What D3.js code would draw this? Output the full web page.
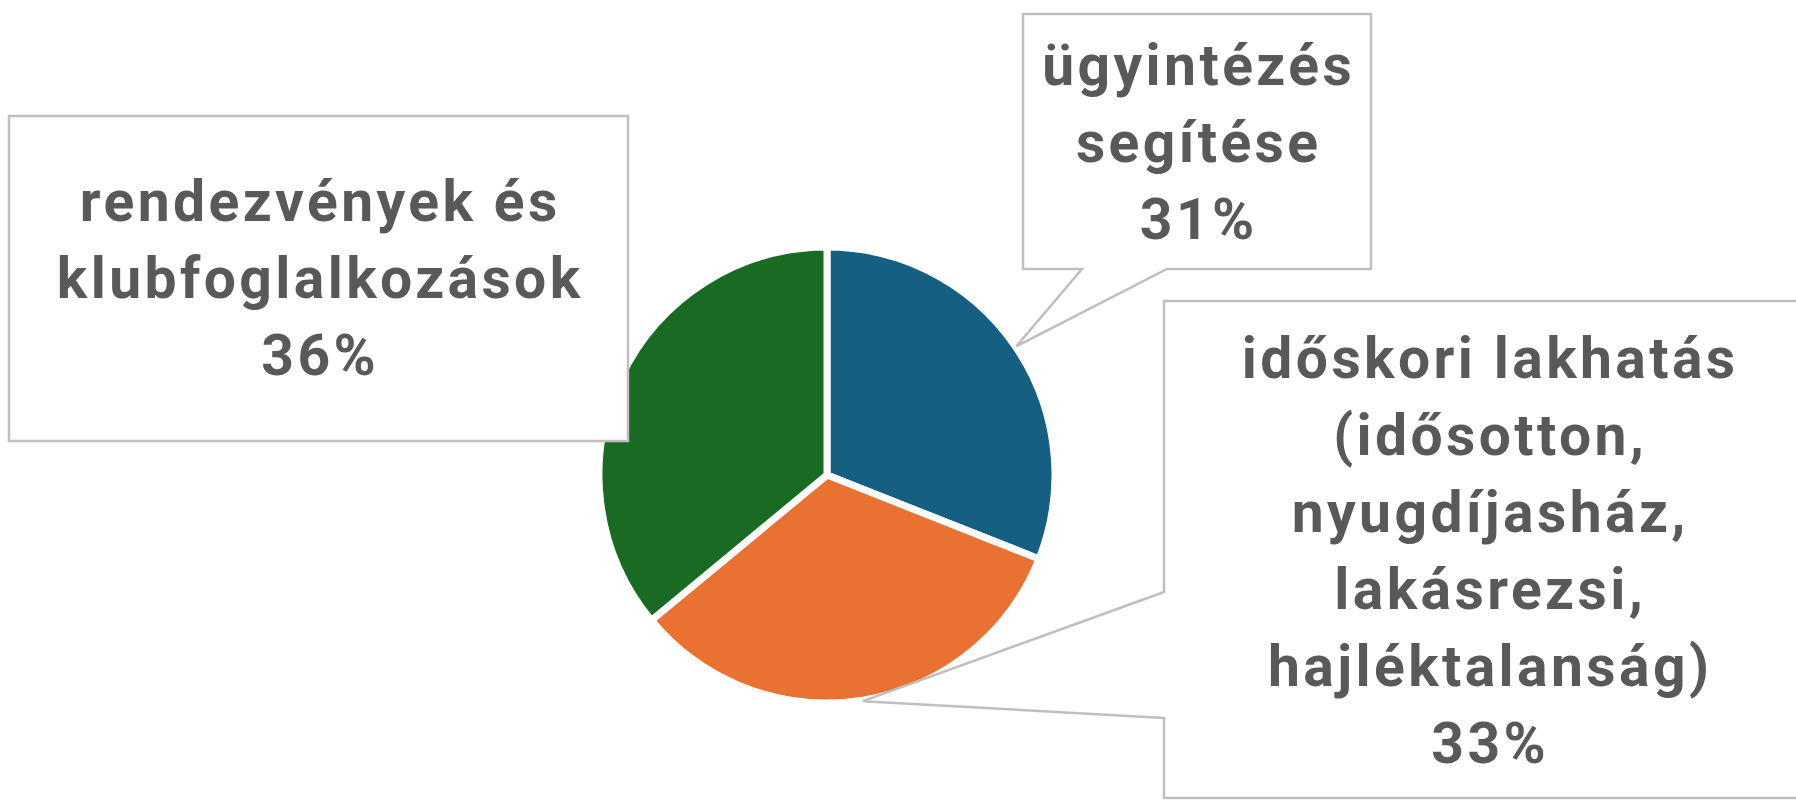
<!DOCTYPE html>
<html>
<head>
<meta charset="utf-8">
<script src="https://cdn.jsdelivr.net/npm/d3@7"></script>
<style>
  html, body { margin: 0; padding: 0; background: #fff; }
  svg { display: block; }
</style>
</head>
<body>
<svg id="chart" width="1796" height="802"></svg>
<script>
const categories = ["ügyintézés segítése", "időskori lakhatás (idősotton, nyugdíjasház, lakásrezsi, hajléktalanság)", "rendezvények és klubfoglalkozások"];
const values = [31, 33, 36];
const colors = ["#156082", "#E97132", "#196B24"];
// label text, split into lines as in the picture
const labelLines = [
    ["ügyintézés", "segítése"],
    ["időskori lakhatás", "(idősotton,", "nyugdíjasház,", "lakásrezsi,", "hajléktalanság)"],
    ["rendezvények és", "klubfoglalkozások"]
];

const svg = d3.select("#chart");
const cx = 827, cy = 475, r = 228;

const pie = d3.pie().sort(null).value(d => d);
const arcs = pie(values);
const arc = d3.arc().innerRadius(0).outerRadius(r);

const g = svg.append("g").attr("transform", `translate(${cx},${cy})`);
g.selectAll("path")
    .data(arcs)
    .enter()
    .append("path")
    .attr("d", arc)
    .attr("fill", (d, i) => colors[i])
    .attr("stroke", "#fff")
    .attr("stroke-width", 7)
    .attr("stroke-linejoin", "round");

// callout boxes: rect + where the pointer leaves the box
const boxes = [
    {x: 1023, y: 14, w: 348, h: 255, side: "bottom", p0: 59, p1: 144, y0: 85},
    {x: 1164, y: 301, w: 649, h: 497, side: "left", p0: 291, p1: 417, y0: 378},
    {x: 9, y: 116, w: 619, h: 325, side: "none", y0: 221}
];
const lineGap = 77;
const spacing = 3.4;

// pointer tip on the rim, at the middle of the slice
function tipOf(d) {
    const a = (d.startAngle + d.endAngle) / 2;
    const rr = r + 1;
    return [cx + rr * Math.sin(a), cy - rr * Math.cos(a)];
}

boxes.forEach((b, i) => {
    const x0 = b.x, y0 = b.y, x1 = b.x + b.w, y1 = b.y + b.h;
    let pts;
    if (b.side === "bottom") {
        const t = tipOf(arcs[i]);
        pts = [[x0, y0], [x1, y0], [x1, y1], [x0 + b.p1, y1], t, [x0 + b.p0, y1], [x0, y1]];
    } else if (b.side === "left") {
        const t = tipOf(arcs[i]);
        pts = [[x0, y0], [x1, y0], [x1, y1], [x0, y1], [x0, y0 + b.p1], t, [x0, y0 + b.p0]];
    } else {
        pts = [[x0, y0], [x1, y0], [x1, y1], [x0, y1]];
    }
    svg.append("path")
        .attr("d", d3.line()(pts) + "Z")
        .attr("fill", "#fff")
        .attr("stroke", "#BFBFBF")
        .attr("stroke-width", 2.5);

    const lines = labelLines[i].concat([values[i] + "%"]);
    svg.append("g")
        .selectAll("text")
        .data(lines)
        .enter()
        .append("text")
        .attr("x", b.x + b.w / 2 + spacing / 2)
        .attr("y", (d, k) => b.y0 + k * lineGap)
        .attr("text-anchor", "middle")
        .attr("font-family", "Roboto, 'Liberation Sans', sans-serif")
        .attr("font-weight", 700)
        .attr("font-size", "57px")
        .attr("letter-spacing", spacing + "px")
        .attr("fill", "#595959")
        .text(d => d);
});
</script>
</body>
</html>
